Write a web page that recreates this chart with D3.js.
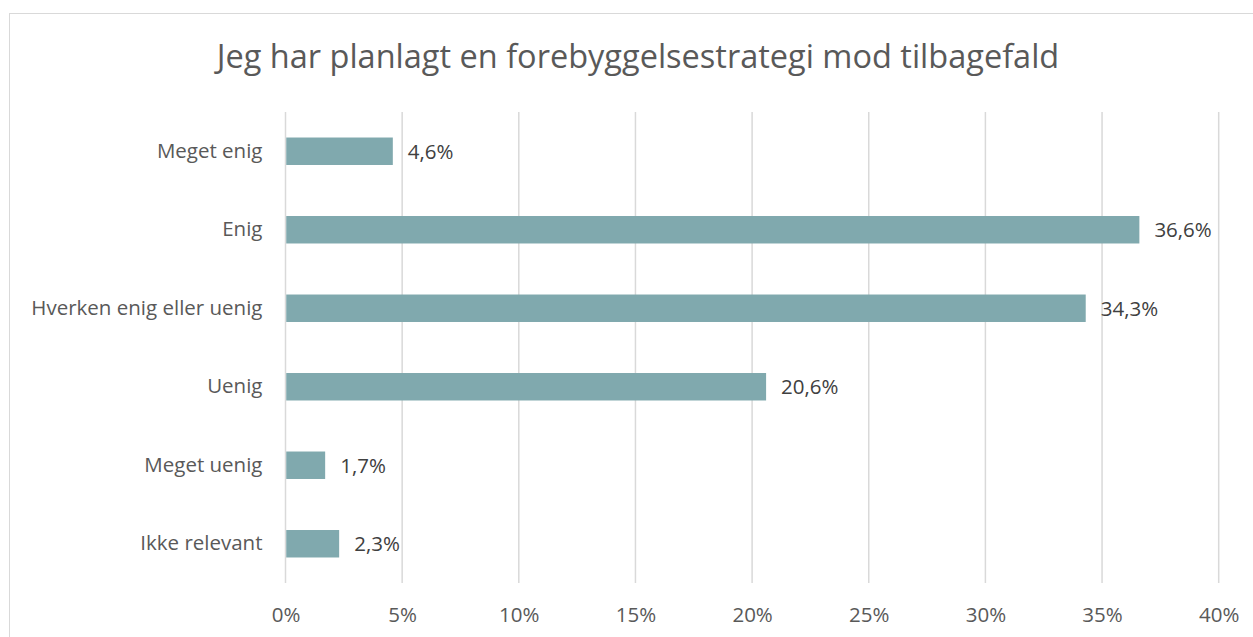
<!DOCTYPE html>
<html>
<head>
<meta charset="utf-8">
<script src="https://cdn.jsdelivr.net/npm/d3@7"></script>
<style>
  html, body { margin: 0; padding: 0; background: #fff; }
  svg { display: block; }
  text { font-family: "Open Sans", "Noto Sans", sans-serif; }
</style>
</head>
<body>
<svg id="chart" width="1253" height="637"></svg>
<script>
const title = "Jeg har planlagt en forebyggelsestrategi mod tilbagefald";
const categories = ["Meget enig", "Enig", "Hverken enig eller uenig", "Uenig", "Meget uenig", "Ikke relevant"];
const values = [4.6, 36.6, 34.3, 20.6, 1.7, 2.3];
const valueLabels = ["4,6%", "36,6%", "34,3%", "20,6%", "1,7%", "2,3%"];
const xTicks = [0, 5, 10, 15, 20, 25, 30, 35, 40];

const svg = d3.select("#chart");
const W = 1253, H = 637;
const margin = { left: 285.5, right: W - 1218.7, top: 112, bottom: H - 583 };
const fs = 20.5;

// chart border
svg.append("rect")
  .attr("x", 9.5).attr("y", 13.5)
  .attr("width", W + 20).attr("height", H + 20)
  .attr("fill", "#fff").attr("stroke", "#d9d9d9").attr("stroke-width", 1);

const x = d3.scaleLinear().domain([0, 40]).range([margin.left, W - margin.right]);
const y = d3.scaleBand().domain(categories)
  .range([margin.top, H - margin.bottom])
  .paddingInner(0.65).paddingOuter(0.325);

// gridlines
svg.append("g").selectAll("line").data(xTicks).join("line")
  .attr("x1", d => x(d)).attr("x2", d => x(d))
  .attr("y1", margin.top).attr("y2", H - margin.bottom)
  .attr("stroke", "#d9d9d9").attr("stroke-width", 1.5);

// x axis labels
const xAxis = d3.axisBottom(x).tickValues(xTicks).tickSize(0).tickPadding(0)
  .tickFormat(d => d + "%");
const gx = svg.append("g").attr("transform", `translate(0,${H - margin.bottom})`).call(xAxis);
gx.select(".domain").remove();
gx.selectAll("text")
  .attr("dy", null).attr("y", 38.5)
  .attr("font-family", "Open Sans").attr("font-size", fs).attr("fill", "#595959");

// y axis labels
const yAxis = d3.axisLeft(y).tickSize(0).tickPadding(23);
const gy = svg.append("g").attr("transform", `translate(${margin.left},0)`).call(yAxis);
gy.select(".domain").remove();
gy.selectAll("text")
  .attr("font-family", "Open Sans").attr("font-size", fs).attr("fill", "#595959");

// bars
svg.append("g").selectAll("rect").data(categories).join("rect")
  .attr("x", x(0) + 0.75)
  .attr("y", (d) => y(d))
  .attr("width", (d, i) => x(values[i]) - x(0) - 0.75)
  .attr("height", y.bandwidth())
  .attr("fill", "#80a9ae");

// value labels
svg.append("g").selectAll("text").data(categories).join("text")
  .attr("x", (d, i) => x(values[i]) + 15)
  .attr("y", d => y(d) + y.bandwidth() / 2)
  .attr("dy", "0.36em")
  .attr("font-size", fs).attr("fill", "#404040")
  .text((d, i) => valueLabels[i]);

// title
svg.append("text")
  .attr("x", 638).attr("y", 68)
  .attr("text-anchor", "middle")
  .attr("font-size", 32.5).attr("font-weight", 400).attr("fill", "#595959")
  .text(title);
</script>
</body>
</html>
